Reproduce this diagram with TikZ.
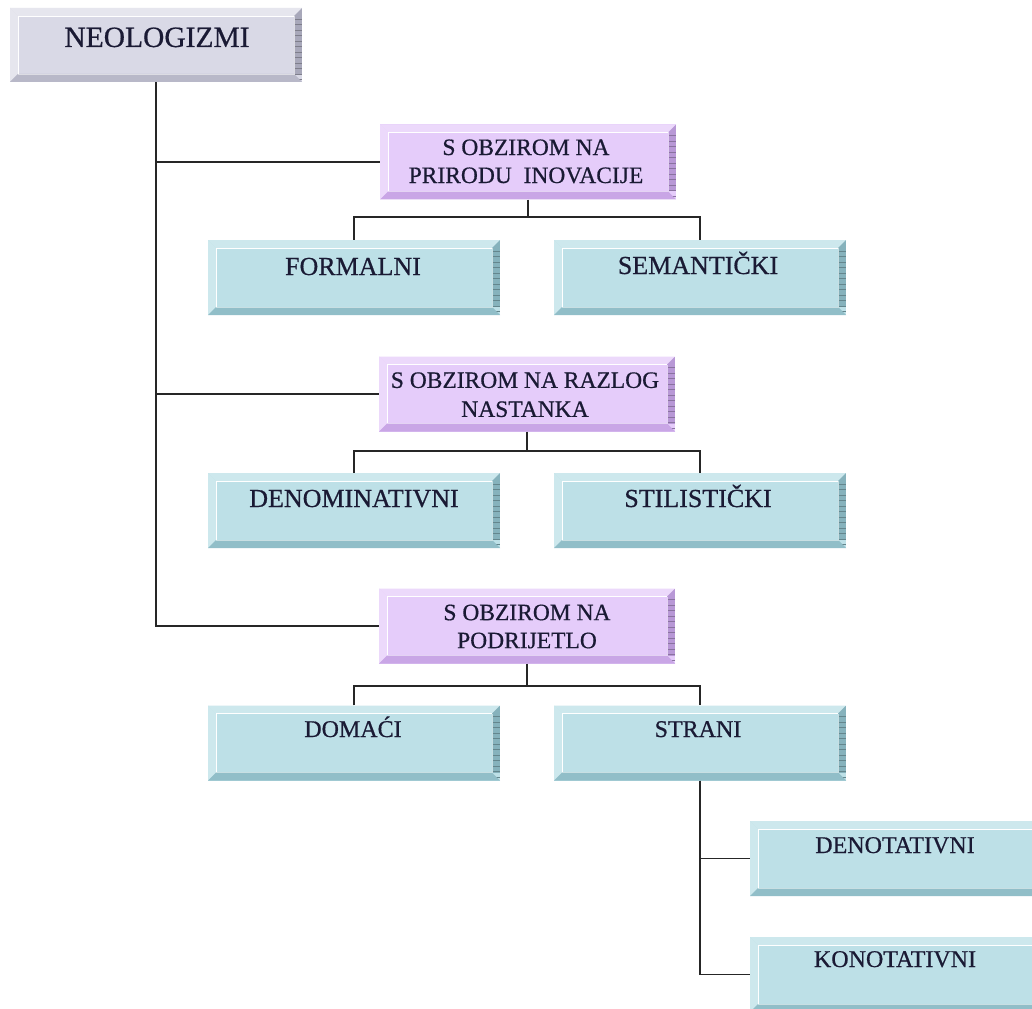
\documentclass[tikz,border=0pt]{standalone}
\usepackage{fontspec}
\setmainfont{Liberation Serif}
\newfontfamily\lblfont{Liberation Serif}[FakeBold=0.6]
\definecolor{txt}{HTML}{1A1A34}
\definecolor{rF}{HTML}{D9D9E6}\definecolor{rL}{HTML}{E6E6EE}\definecolor{rD}{HTML}{B8B8C8}\definecolor{rS}{HTML}{A8A8BA}
\definecolor{pF}{HTML}{E5CCFA}\definecolor{pL}{HTML}{ECD9FB}\definecolor{pD}{HTML}{C9A6E6}\definecolor{pS}{HTML}{B898D6}
\definecolor{bF}{HTML}{BDE0E7}\definecolor{bL}{HTML}{CDE8ED}\definecolor{bD}{HTML}{91BEC8}\definecolor{bS}{HTML}{86B2BC}
\tikzset{
 bevel/.style n args={4}{rectangle, inner sep=0pt, fill=#1, path picture={
   \coordinate (nw) at (path picture bounding box.north west);
   \coordinate (ne) at (path picture bounding box.north east);
   \coordinate (sw) at (path picture bounding box.south west);
   \coordinate (se) at (path picture bounding box.south east);
   \coordinate (inw) at ([shift={(8pt,-8pt)}]nw);
   \coordinate (ine) at ([shift={(-8pt,-8pt)}]ne);
   \coordinate (isw) at ([shift={(8pt,8pt)}]sw);
   \coordinate (ise) at ([shift={(-8pt,8pt)}]se);
   \fill[#2] (nw) -- (ne) -- (ine) -- (inw) -- cycle;
   \fill[#2] (nw) -- (inw) -- (isw) -- (sw) -- cycle;
   \fill[#3] (sw) -- (isw) -- (ise) -- (se) -- cycle;
   \begin{scope}
     \clip (ne) -- (se) -- (ise) -- (ine) -- cycle;
     \fill[#4] (ne) rectangle (ise);
     \foreach \k in {2,...,13} \draw[#4!75!black, line width=0.5pt] ([yshift=-\k*5.5pt]ne) -- ++(-10pt,0pt);
   \end{scope}
   \draw[white, line width=0.8pt] (isw) -- (inw) -- (ine);
   \draw[white!50!#3, line width=0.6pt] (ine) -- (ise) -- (isw);
 }},
 rootbox/.style={bevel={rF}{rL}{rD}{rS}, minimum width=292pt, minimum height=74pt},
 purplebox/.style={bevel={pF}{pL}{pD}{pS}, minimum width=296pt, minimum height=75pt},
 bluebox/.style={bevel={bF}{bL}{bD}{bS}, minimum width=292pt, minimum height=75pt},
 lbl/.style={text=txt, inner sep=0pt, align=center},
 conn/.style={draw=black!85, line width=1.8pt},
}
\begin{document}
\begin{tikzpicture}[x=1pt,y=-1pt]
\useasboundingbox (0,0) rectangle (1032,1008);
\fill[white] (0,0) rectangle (1032,1008);
% boxes
\node[rootbox] (root) at (156,45) {};
\node[purplebox] (p1) at (528,162) {};
\node[purplebox] (p2) at (527,394) {};
\node[purplebox] (p3) at (527,626) {};
\node[bluebox] (f1) at (354,277.5) {};
\node[bluebox] (f2) at (700,277.5) {};
\node[bluebox] (d1) at (354,510.5) {};
\node[bluebox] (d2) at (700,510.5) {};
\node[bluebox] (g1) at (354,743) {};
\node[bluebox] (g2) at (700,743) {};
\node[bluebox] (h1) at (896,858.5) {};
\node[bluebox] (h2) at (896,974.5) {};
% connectors
\draw[conn] (root.south) |- (p1.west);
\draw[conn] (root.south) |- (p2.west);
\draw[conn] (root.south) |- (p3.west);
\draw[conn] (p1.south) -- ++(0,17) coordinate (j1);
\draw[conn] (f1.north) |- (j1) -| (f2.north);
\draw[conn] (p2.south) -- ++(0,19) coordinate (j2);
\draw[conn] (d1.north) |- (j2) -| (d2.north);
\draw[conn] (p3.south) -- ++(0,22) coordinate (j3);
\draw[conn] (g1.north) |- (j3) -| (g2.north);
\draw[conn] (g2.south) |- (h1.west);
\draw[conn] (g2.south) |- (h2.west);
% texts
\node[lbl, font=\lblfont\fontsize{29.5}{34}\selectfont, anchor=base] (tRoot) at (157,47) {NEOLOGIZMI};
\node[lbl, font=\lblfont\fontsize{23.5}{28}\selectfont] (tP1) at (526,161.4) {S OBZIROM NA\\PRIRODU\ \ INOVACIJE};
\node[lbl, font=\lblfont\fontsize{23.5}{29}\selectfont] (tP2) at (525,394.7) {S OBZIROM NA RAZLOG\\NASTANKA};
\node[lbl, font=\lblfont\fontsize{23.5}{28}\selectfont] (tP3) at (527,626.5) {S OBZIROM NA\\PODRIJETLO};
\node[lbl, font=\lblfont\fontsize{26}{30}\selectfont, anchor=base] (tF1) at (353,275) {FORMALNI};
\node[lbl, font=\lblfont\fontsize{26}{30}\selectfont, anchor=base] (tF2) at (698,274) {SEMANTIČKI};
\node[lbl, font=\lblfont\fontsize{26}{30}\selectfont, anchor=base] (tD1) at (354,507) {DENOMINATIVNI};
\node[lbl, font=\lblfont\fontsize{26}{30}\selectfont, anchor=base] (tD2) at (698,507) {STILISTIČKI};
\node[lbl, font=\lblfont\fontsize{24}{28}\selectfont, anchor=base] (tG1) at (353,737) {DOMAĆI};
\node[lbl, font=\lblfont\fontsize{24}{28}\selectfont, anchor=base] (tG2) at (698,737) {STRANI};
\node[lbl, font=\lblfont\fontsize{24}{28}\selectfont, anchor=base] (tH1) at (895,853) {DENOTATIVNI};
\node[lbl, font=\lblfont\fontsize{24}{28}\selectfont, anchor=base] (tH2) at (895,967) {KONOTATIVNI};
\end{tikzpicture}
\end{document}
